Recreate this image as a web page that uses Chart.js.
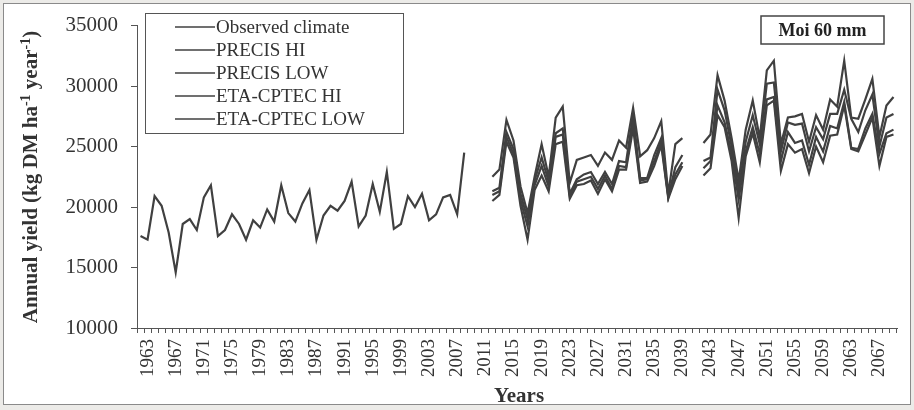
<!DOCTYPE html>
<html>
<head>
<meta charset="utf-8">
<script src="https://cdn.jsdelivr.net/npm/chart.js@4.4.1/dist/chart.umd.min.js"></script>
<style>
  html, body { margin: 0; padding: 0; background: #ecebe8; }
  #wrap { width: 914px; height: 410px; }
</style>
</head>
<body>
<div id="wrap"><canvas id="yieldChart" width="914" height="410"></canvas></div>
<script>
// --- data (kg DM / ha / year) ---
const firstYear = 1963;
const lastYear = 2070;
const years = Array.from({ length: lastYear - firstYear + 1 }, (_, i) => String(firstYear + i));

// observed climate 1963-2009
const observed = [17600, 17300, 20900, 20100, 17900, 14600, 18600, 19000, 18100, 20800,
  21800, 17600, 18100, 19400, 18600, 17300, 18900, 18300, 19800, 18800,
  21800, 19500, 18800, 20300, 21400, 17300, 19300, 20100, 19700, 20500,
  22100, 18400, 19300, 21900, 19600, 22900, 18200, 18600, 20900, 20000,
  21100, 18900, 19400, 20800, 21000, 19400, 24500];
const observedStart = 1963;

// projections, period 1 (2013-2040) and period 2 (2043-2070)
const period1Start = 2013;
const period2Start = 2043;

const precisHi1 = [22500, 23100, 27200, 25500, 21700, 19500, 22500, 25200, 22500, 27400,
  28300, 22000, 23900, 24100, 24300, 23400, 24500, 23900, 25500, 24900,
  28200, 24200, 24700, 25700, 27100, 21100, 25200, 25700];
const etaHi1 = [21300, 21600, 26200, 24800, 21100, 19000, 22200, 24100, 22100, 26100,
  26500, 21100, 22300, 22700, 22900, 21900, 22900, 21900, 23800, 23700,
  27600, 22400, 22400, 24300, 25700, 20900, 23300, 24300];
const precisLow1 = [21000, 21300, 25800, 24400, 20600, 18400, 21800, 23400, 21700, 25800,
  26000, 20900, 22100, 22300, 22500, 21500, 22600, 21500, 23400, 23300,
  27000, 22200, 22300, 23800, 25400, 20800, 22700, 23700];
const etaLow1 = [20500, 21000, 25400, 24100, 20100, 17300, 21400, 22600, 21300, 25200,
  25400, 20700, 21800, 21900, 22200, 21100, 22300, 21300, 23100, 23100,
  26500, 22000, 22100, 23400, 25100, 20700, 22300, 23400];

const precisHi2 = [25300, 26000, 30900, 28800, 25700, 22200, 26400, 28800, 25700, 31300,
  32100, 25200, 27400, 27500, 27700, 25400, 27600, 26400, 28900, 28300,
  32100, 27400, 27300, 28900, 30600, 25800, 28400, 29100];
const etaHi2 = [23800, 24100, 29700, 28000, 25000, 21400, 25400, 27600, 25200, 30200,
  30300, 24600, 27000, 26800, 26900, 24600, 26600, 25600, 27700, 27700,
  29700, 27300, 26200, 28000, 29300, 25000, 27400, 27700];
const precisLow2 = [23200, 23800, 28400, 27000, 24400, 20600, 24600, 26600, 24400, 28900,
  29100, 23800, 26200, 25300, 25500, 23500, 25800, 24600, 26700, 26500,
  28700, 24900, 24800, 26500, 27700, 24400, 26100, 26400];
const etaLow2 = [22600, 23200, 27600, 26600, 23800, 19100, 24200, 26100, 23700, 28400,
  28800, 23000, 25200, 24500, 24800, 22800, 25000, 23700, 25900, 26000,
  28400, 24800, 24600, 26000, 27400, 23400, 25800, 26000];

const seriesNames = ['Observed climate', 'PRECIS HI', 'PRECIS LOW', 'ETA-CPTEC HI', 'ETA-CPTEC LOW'];
const yTicks = [10000, 15000, 20000, 25000, 30000, 35000];
const panelTag = 'Moi 60 mm';

// put runs of yearly values onto the full year axis (nulls elsewhere)
function onAxis(...runs) {
  const out = years.map(() => null);
  runs.forEach(([s, vals]) => {
    vals.forEach((v, i) => { out[s - firstYear + i] = v; });
  });
  return out;
}

const LINE = '#404040';
const AXIS = '#555555';
const SERIF = "'Liberation Serif', 'Times New Roman', serif";

function ds(label, data) {
  return {
    label: label,
    data: data,
    borderColor: LINE,
    backgroundColor: LINE,
    borderWidth: 2.2,
    pointRadius: 0,
    tension: 0,
    spanGaps: false
  };
}

const datasets = [
  ds(seriesNames[0], onAxis([observedStart, observed])),
  ds(seriesNames[1], onAxis([period1Start, precisHi1], [period2Start, precisHi2])),
  ds(seriesNames[2], onAxis([period1Start, precisLow1], [period2Start, precisLow2])),
  ds(seriesNames[3], onAxis([period1Start, etaHi1], [period2Start, etaHi2])),
  ds(seriesNames[4], onAxis([period1Start, etaLow1], [period2Start, etaLow2]))
];

// page frame behind the chart
const framePlugin = {
  id: 'frame',
  beforeDraw(chart) {
    const ctx = chart.ctx;
    ctx.save();
    ctx.fillStyle = '#ecebe8';
    ctx.fillRect(0, 0, chart.width, chart.height);
    ctx.fillStyle = '#ffffff';
    ctx.fillRect(3, 3, 908, 402);
    ctx.strokeStyle = '#8a8a8a';
    ctx.lineWidth = 1;
    ctx.strokeRect(3.5, 3.5, 907, 401);
    ctx.restore();
  }
};

// legend box, panel tag and axis titles
const decorPlugin = {
  id: 'decor',
  afterDraw(chart) {
    const ctx = chart.ctx;
    ctx.save();

    // legend
    ctx.strokeStyle = '#555';
    ctx.lineWidth = 1;
    ctx.strokeRect(145.5, 13.5, 258, 120);
    ctx.font = '19px ' + SERIF;
    ctx.textBaseline = 'middle';
    ctx.textAlign = 'left';
    chart.data.datasets.forEach((d, i) => {
      const y = 27 + i * 23;
      ctx.strokeStyle = d.borderColor;
      ctx.lineWidth = 1.5;
      ctx.beginPath();
      ctx.moveTo(175, y);
      ctx.lineTo(215, y);
      ctx.stroke();
      ctx.fillStyle = '#333';
      ctx.fillText(d.label, 216, y + 1);
    });

    // panel tag
    ctx.strokeStyle = '#444';
    ctx.lineWidth = 1.5;
    ctx.strokeRect(761, 16, 123, 28);
    ctx.fillStyle = '#222';
    ctx.font = 'bold 18px ' + SERIF;
    ctx.textAlign = 'center';
    ctx.fillText(panelTag, 822.5, 31);

    // x title
    ctx.font = 'bold 21px ' + SERIF;
    ctx.fillStyle = '#333';
    ctx.fillText('Years', 519, 397);

    // y title with superscripts, rotated
    const parts = [
      ['Annual yield (kg DM ha', false],
      ['-1', true],
      [' year', false],
      ['-1', true],
      [')', false]
    ];
    const big = 'bold 21px ' + SERIF;
    const small = 'bold 14px ' + SERIF;
    let total = 0;
    parts.forEach(([t, sup]) => { ctx.font = sup ? small : big; total += ctx.measureText(t).width; });
    ctx.translate(32, 177);
    ctx.rotate(-Math.PI / 2);
    ctx.textAlign = 'left';
    let x = -total / 2;
    parts.forEach(([t, sup]) => {
      ctx.font = sup ? small : big;
      ctx.fillText(t, x, sup ? -6 : 0);
      x += ctx.measureText(t).width;
    });
    ctx.restore();
  }
};

new Chart(document.getElementById('yieldChart').getContext('2d'), {
  type: 'line',
  data: { labels: years, datasets: datasets },
  options: {
    responsive: false,
    animation: false,
    devicePixelRatio: 1,
    layout: { padding: { top: 18, right: 17, left: 0, bottom: 0 } },
    plugins: {
      legend: { display: false },
      tooltip: { enabled: false }
    },
    scales: {
      x: {
        type: 'category',
        offset: true,
        grid: { display: true, offset: true, drawOnChartArea: false, drawTicks: true, tickLength: 5, color: AXIS },
        border: { display: true, color: AXIS, width: 1 },
        ticks: {
          autoSkip: false,
          minRotation: 90,
          maxRotation: 90,
          padding: 6,
          labelOffset: 7,
          color: '#333',
          font: { family: SERIF, size: 19 },
          callback: (val, i) => (i % 4 === 0 ? years[i] : '')
        },
        afterFit: (scale) => {
          scale.height = 82;
          scale.paddingLeft = 0;
          scale.paddingRight = 0;
        }
      },
      y: {
        min: yTicks[0],
        max: yTicks[yTicks.length - 1],
        afterBuildTicks: (scale) => { scale.ticks = yTicks.map(v => ({ value: v })); },
        grid: { display: true, drawOnChartArea: false, drawTicks: true, tickLength: 6, color: AXIS },
        border: { display: true, color: AXIS, width: 1 },
        ticks: {
          padding: 13,
          color: '#333',
          font: { family: SERIF, size: 21 },
          callback: (v) => String(v)
        },
        afterFit: (scale) => { scale.width = 137; }
      }
    }
  },
  plugins: [framePlugin, decorPlugin]
});
</script>
</body>
</html>
